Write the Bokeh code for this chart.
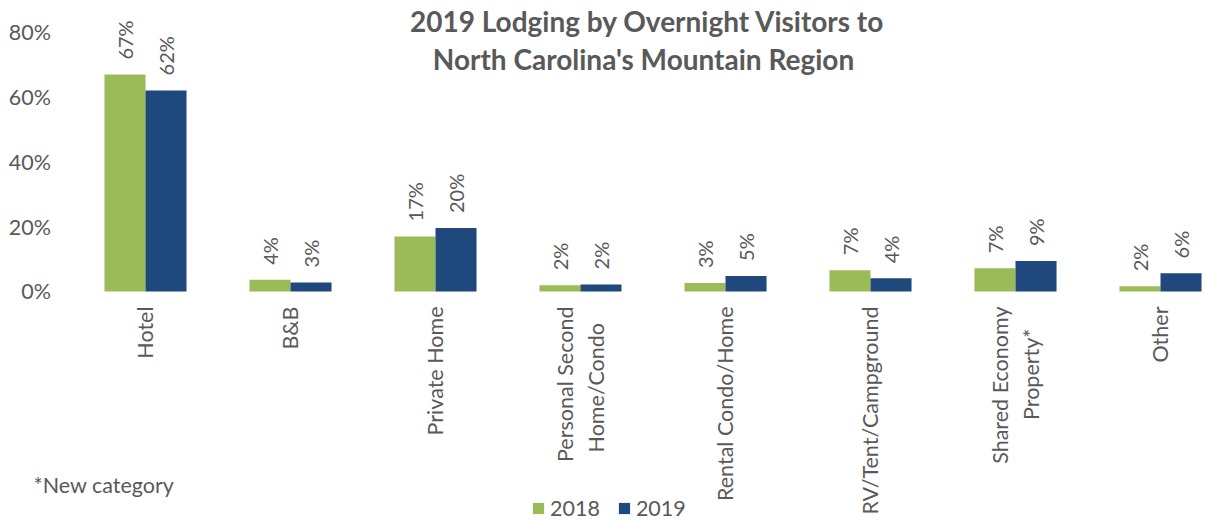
import math
from bokeh.plotting import figure
from bokeh.models import (ColumnDataSource, Range1d, FixedTicker, NumeralTickFormatter,
                          LabelSet, Label, Legend, LegendItem)
from bokeh.transform import dodge
from bokeh.core.properties import value
from bokeh.embed import file_html
from bokeh.resources import INLINE

# ---- data ----
NB = "\u00a0"
categories = ["Hotel", "B&B", "Private Home", "Personal Second\nHome/Condo" + NB * 3,
              "Rental Condo/Home", "RV/Tent/Campground", "Shared Economy\nProperty*" + NB * 4,
              "Other"]
series = ["2018", "2019"]
values_2018 = [0.670, 0.036, 0.170, 0.019, 0.026, 0.066, 0.072, 0.016]
values_2019 = [0.621, 0.028, 0.196, 0.022, 0.048, 0.041, 0.094, 0.056]
y_ticks = [0, 0.2, 0.4, 0.6, 0.8]
title_lines = ["2019 Lodging by Overnight Visitors to", "North Carolina's Mountain Region"]
footnote = "*New category"

GREEN = "#9BBB59"
BLUE = "#1F497D"
TXT = "#595959"
FONT = "Lato"
FS = "21.5px"

idx = list(range(len(categories)))
src = ColumnDataSource(dict(
    idx=idx,
    v18=values_2018,
    v19=values_2019,
    l18=["{:.0%}".format(v) for v in values_2018],
    l19=["{:.0%}".format(v) for v in values_2019],
))

W, H = 1205, 521
p = figure(width=W, height=H, output_backend="svg", toolbar_location=None,
           x_range=Range1d(-1.0, 7.3103), y_range=Range1d(-0.7104, 0.8988),
           min_border=0, min_border_left=0, min_border_right=0,
           min_border_top=0, min_border_bottom=0)
p.outline_line_color = None
p.grid.visible = False
p.background_fill_color = "white"

bw = 0.283
r18 = p.vbar(x=dodge("idx", -bw / 2, range=p.x_range), top="v18", width=bw, source=src,
             fill_color=GREEN, line_color=None)
r19 = p.vbar(x=dodge("idx", bw / 2, range=p.x_range), top="v19", width=bw, source=src,
             fill_color=BLUE, line_color=None)

for col, lab, off in (("v18", "l18", -bw / 2), ("v19", "l19", bw / 2)):
    p.add_layout(LabelSet(x=dodge("idx", off, range=p.x_range), y=col, text=lab, source=src,
                          angle=math.pi / 2, text_align="left", text_baseline="middle",
                          y_offset=15, text_font_size="20px", text_color=TXT,
                          text_font=value(FONT)))

# axes (drawn inside the frame at fixed locations)
yax = p.yaxis[0]
yax.fixed_location = -0.5
yax.ticker = FixedTicker(ticks=y_ticks)
yax.formatter = NumeralTickFormatter(format="0%")
yax.axis_line_color = None
yax.major_tick_line_color = None
yax.minor_tick_line_color = None
yax.major_tick_out = 0
yax.major_tick_in = 0
yax.major_label_standoff = 22
yax.major_label_text_font = FONT
yax.major_label_text_font_size = FS
yax.major_label_text_color = TXT

xax = p.xaxis[0]
xax.fixed_location = 0
xax.ticker = FixedTicker(ticks=idx)
xax.major_label_overrides = {i: c for i, c in zip(idx, categories)}
xax.major_label_orientation = math.pi / 2
xax.axis_line_color = None
xax.major_tick_line_color = None
xax.minor_tick_line_color = None
xax.major_tick_out = 0
xax.major_tick_in = 0
xax.major_label_standoff = 15
xax.major_label_text_font = FONT
xax.major_label_text_font_size = FS
xax.major_label_text_color = TXT

# title (screen units from frame bottom-left; frame = whole canvas)
for txt, x, y in ((title_lines[0], 647, H - 20), (title_lines[1], 643, H - 58)):
    p.add_layout(Label(x=x, y=y, x_units="screen", y_units="screen", text=txt,
                       text_align="center", text_baseline="alphabetic",
                       text_font=FONT, text_font_style="bold", text_font_size="28px",
                       text_color=TXT))

p.add_layout(Label(x=33, y=H - 484, x_units="screen", y_units="screen", text=footnote,
                   text_align="left", text_baseline="alphabetic",
                   text_font=FONT, text_font_size=FS, text_color=TXT))

legend = Legend(items=[LegendItem(label=value(series[0]), renderers=[r18]),
                       LegendItem(label=value(series[1]), renderers=[r19])],
                orientation="horizontal", location=(531, 0),
                border_line_color=None, background_fill_alpha=0,
                padding=0, margin=0, spacing=17, glyph_width=14, glyph_height=14,
                label_standoff=5, label_height=14, label_text_font=FONT,
                label_text_font_size=FS, label_text_color=TXT)
p.add_layout(legend, "center")

open("out.html", "w").write(file_html(p, INLINE))
